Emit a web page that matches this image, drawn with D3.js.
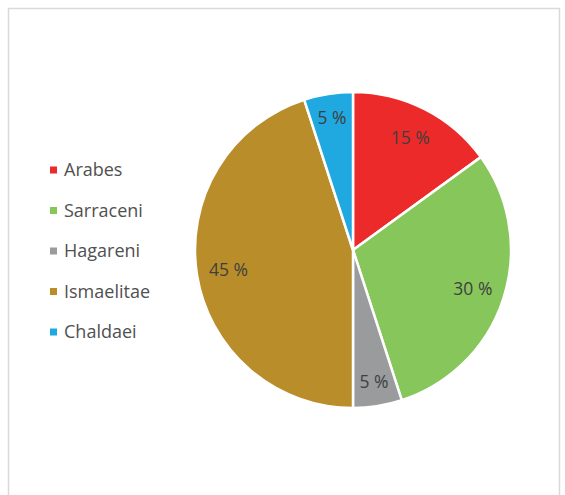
<!DOCTYPE html>
<html>
<head>
<meta charset="utf-8">
<script src="https://cdn.jsdelivr.net/npm/d3@7"></script>
<style>
  body { margin: 0; background: #fff; }
  text { font-family: "Open Sans", sans-serif; }
</style>
</head>
<body>
<div id="chart"></div>
<script>
var categories = ["Arabes", "Sarraceni", "Hagareni", "Ismaelitae", "Chaldaei"];
var values = [15, 30, 5, 45, 5];
var colors = ["#ec2a2a", "#87c65b", "#9a9b9d", "#b98e2a", "#20a8e0"];

var svgWidth = 565;
var svgHeight = 495;
var cx = 353, cy = 250, radius = 158;

var svg = d3.select("#chart")
    .append("svg")
    .attr("width", svgWidth)
    .attr("height", svgHeight);

// chart frame (no bottom edge visible in the picture)
svg.append("path")
    .attr("d", "M8.5,495 V8.5 H559.5 V495")
    .attr("fill", "none")
    .attr("stroke", "#d9d9d9")
    .attr("stroke-width", 1.5);

var data = categories.map(function(c, i) {
  return {name: c, value: values[i], color: colors[i]};
});

var pie = d3.pie()
    .sort(null)
    .value(d => d.value);

var arc = d3.arc()
    .innerRadius(0)
    .outerRadius(radius);

var plot = svg.append("g")
    .attr("transform", `translate(${cx},${cy})`);

var arcs = pie(data);

plot.selectAll("path.slice")
    .data(arcs)
    .enter()
    .append("path")
    .attr("class", "slice")
    .attr("d", arc)
    .attr("fill", d => d.data.color)
    .attr("stroke", "#fff")
    .attr("stroke-width", 2.5)
    .attr("stroke-linejoin", "round");

// small slices get their labels pushed a bit further out
plot.selectAll("text.lbl")
    .data(arcs)
    .enter()
    .append("text")
    .attr("class", "lbl")
    .attr("transform", function(d) {
      var r = d.data.value <= 5 ? 134 : 126;
      var c = d3.arc().innerRadius(r).outerRadius(r).centroid(d);
      return `translate(${c[0]},${c[1]})`;
    })
    .attr("text-anchor", "middle")
    .attr("dy", "0.35em")
    .attr("font-size", 17.5)
    .attr("fill", "#3f3f3f")
    .text(d => d.data.value + " %");

var legend = svg.append("g")
    .attr("transform", "translate(50,170)");

var rows = legend.selectAll("g")
    .data(data)
    .enter()
    .append("g")
    .attr("transform", (d, i) => `translate(0,${i * 40.5})`);

rows.append("rect")
    .attr("x", 0)
    .attr("y", -3.5)
    .attr("width", 7)
    .attr("height", 7)
    .attr("fill", d => d.color);

rows.append("text")
    .attr("x", 14)
    .attr("dy", "0.35em")
    .attr("font-size", 18)
    .attr("fill", "#505050")
    .text(d => d.name);
</script>
</body>
</html>
